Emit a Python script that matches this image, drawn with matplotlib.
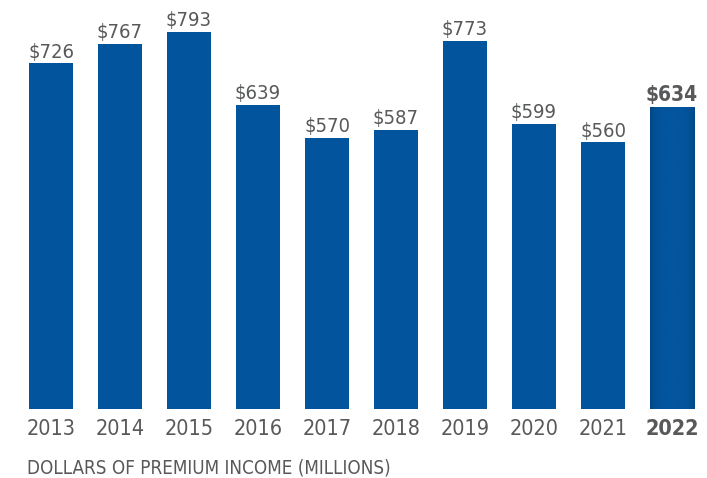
import matplotlib.pyplot as plt
import numpy as np
from matplotlib import font_manager

years = ['2013', '2014', '2015', '2016', '2017', '2018', '2019', '2020', '2021', '2022']
premium = [726, 767, 793, 639, 570, 587, 773, 599, 560, 634]

blue = '#02549c'
gray = '#58595b'

names = set(f.name for f in font_manager.fontManager.ttflist)
if 'Liberation Sans Narrow' in names:
    fam = 'Liberation Sans Narrow'
    stretch = 'normal'
else:
    fam = 'DejaVu Sans'
    stretch = 'condensed'

fig = plt.figure(figsize=(7.07, 4.78), dpi=100)
ax = fig.add_axes([16.5 / 707, 69 / 478, 690 / 707, 404.6 / 478])

x = np.arange(len(years))
bars = ax.bar(x, premium, width=0.64, color=blue)

# the last bar has a soft darker edge
last = bars[-1]
grad = np.abs(np.linspace(-1, 1, 200)) ** 4
grad = np.tile(grad, (2, 1))
cmap = plt.matplotlib.colors.LinearSegmentedColormap.from_list('edge', ['#03559e', '#014786'])
im = ax.imshow(grad, cmap=cmap, aspect='auto',
               extent=[last.get_x(), last.get_x() + last.get_width(), 0, last.get_height()],
               zorder=3)
im.set_clip_path(last)

for i, v in enumerate(premium):
    bold = i == len(premium) - 1
    ax.text(i, v + 4, '$%d' % v, ha='center', va='bottom', color=gray,
            family=fam, fontstretch=stretch, fontsize=15 if bold else 14.5,
            fontweight='bold' if bold else 'normal')

ax.set_xticks(x)
ax.set_xticklabels(years, family=fam, fontstretch=stretch, fontsize=15.5, color=gray)
ax.get_xticklabels()[-1].set_fontweight('bold')
ax.tick_params(axis='x', length=0, pad=7)
ax.set_yticks([])
ax.set_xlim(-0.5, 9.5)
ax.set_ylim(0, 850)
for s in ax.spines.values():
    s.set_visible(False)

fig.text(27 / 707, 1 - 468 / 478, 'DOLLARS OF PREMIUM INCOME (MILLIONS)', ha='left', va='center',
         family=fam, fontstretch=stretch, fontsize=13.5, color=gray)

fig.savefig('out.png', dpi=100)
